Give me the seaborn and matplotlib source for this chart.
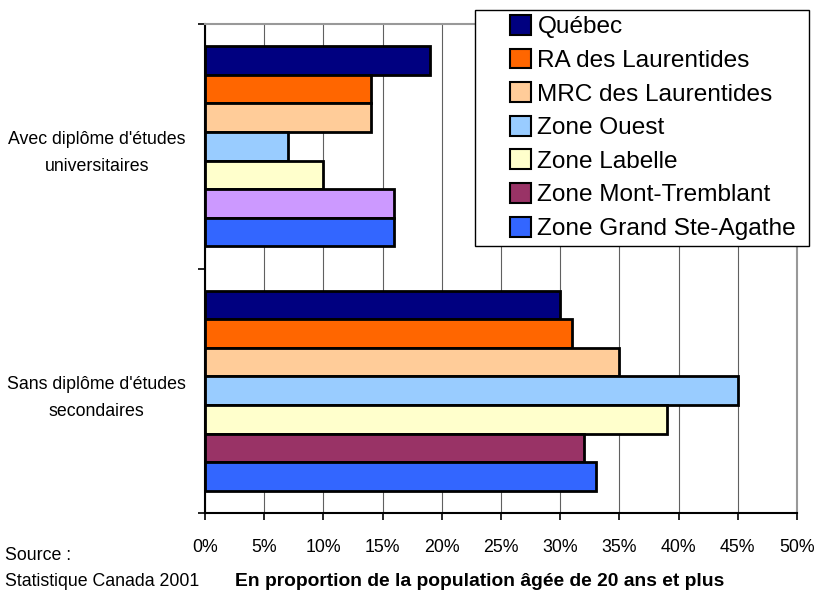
import numpy as np
import pandas as pd
import matplotlib
matplotlib.use('Agg')
import matplotlib.pyplot as plt
from matplotlib.patches import Patch, Rectangle
import seaborn as sns

# data (percent)
categories = ["Avec diplôme d'études\nuniversitaires", "Sans diplôme d'études\nsecondaires"]
zones = ['Québec', 'RA des Laurentides', 'MRC des Laurentides', 'Zone Ouest',
         'Zone Labelle', 'Zone Mont-Tremblant', 'Zone Grand Ste-Agathe']
univ_vals = [19, 14, 14, 7, 10, 16, 16]
sec_vals = [30, 31, 35, 45, 39, 32, 33]
zone_colors = ['#000080', '#FF6600', '#FFCC99', '#99CCFF', '#FFFFCC', '#993366', '#3366FF']
univ_tremblant_color = '#CC99FF'  # this one bar is drawn lilac in the original
x_ticks = list(range(0, 51, 5))

df = pd.DataFrame({
    'categorie': np.repeat(categories, len(zones)),
    'zone': zones * 2,
    'valeur': univ_vals + sec_vals,
})

sns.set_style('white')
plt.rcParams['font.family'] = ['Liberation Sans', 'DejaVu Sans']
plt.rcParams['text.color'] = 'black'
plt.rcParams['xtick.color'] = 'black'
plt.rcParams['ytick.color'] = 'black'

fig, ax = plt.subplots(figsize=(8.17, 6.04), dpi=100)
fig.subplots_adjust(left=205/817, right=797/817, top=1-24/604, bottom=1-513/604)

sns.barplot(data=df, x='valeur', y='categorie', hue='zone', hue_order=zones,
            palette=zone_colors, orient='h', width=0.82, saturation=1,
            edgecolor='black', linewidth=2, legend=False, ax=ax)

# recolour the Mont-Tremblant bar of the first group
ax.containers[zones.index('Zone Mont-Tremblant')][0].set_facecolor(univ_tremblant_color)

ax.set_xlim(0, 50)
ax.set_xticks(x_ticks)
ax.set_xticklabels([f'{v}%' for v in x_ticks], fontsize=12.8)
ax.set_xlabel('')
ax.set_ylabel('')

ax.set_ylim(1.5, -0.5)
ax.set_yticks([-0.5, 0.5, 1.5])
ax.set_yticklabels([])
ax.set_yticks([0, 1], minor=True)
ax.set_yticklabels(categories, minor=True, fontsize=12.8, multialignment='center',
                   linespacing=1.75)
ax.tick_params(axis='y', which='minor', length=0, pad=14)
ax.tick_params(axis='y', which='major', length=5, width=1.2, direction='out', left=True)
ax.tick_params(axis='x', length=5, width=1.2, direction='out', pad=14, bottom=True)

ax.grid(axis='x', color='#606060', linewidth=0.8)
ax.grid(axis='y', visible=False)
ax.set_axisbelow(True)

for side in ['left', 'bottom']:
    ax.spines[side].set_color('black')
    ax.spines[side].set_linewidth(1.5)
for side in ['top', 'right']:
    ax.spines[side].set_visible(True)
    ax.spines[side].set_color('#999999')
    ax.spines[side].set_linewidth(1.5)

# legend box like the Excel one: frame drawn separately, entries inside
fig.add_artist(Rectangle((475/817, 1-246/604), (809-475)/817, 236/604,
                         transform=fig.transFigure, facecolor='white',
                         edgecolor='black', linewidth=1, zorder=3))
handles = [Patch(facecolor=c, edgecolor='black', linewidth=1.5) for c in zone_colors]
fig.legend(handles, zones, loc='upper left', bbox_to_anchor=(510/817, 1-15/604),
           frameon=False, prop={'family': 'Liberation Sans', 'size': 17.6},
           handlelength=0.87, handleheight=0.87, handletextpad=0.25,
           labelspacing=0.42, borderpad=0, borderaxespad=0)

fig.text(5/817, 1-555/604, 'Source :', fontsize=12.8, va='center', ha='left')
fig.text(5/817, 1-582/604, 'Statistique Canada 2001', fontsize=12.8, va='center', ha='left')
fig.text(480/817, 1-582/604, 'En proportion de la population âgée de 20 ans et plus',
         fontsize=13.9, fontweight='bold', va='center', ha='center')

fig.savefig('out.png', dpi=100)
